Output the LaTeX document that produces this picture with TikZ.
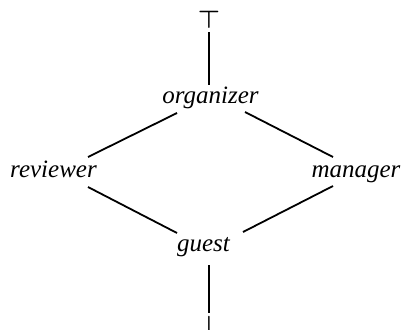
\documentclass[tikz,border=0pt]{standalone}
\usepackage{fontspec}
\setmainfont{Liberation Serif}
\begin{document}
\begin{tikzpicture}[x=1pt,y=-1pt,
  role/.style={inner sep=0pt, outer sep=0pt, anchor=base,
    font=\fontsize{25}{29}\selectfont\itshape},
  bound/.style={inner sep=0pt, outer sep=0pt, anchor=north,
    font=\fontsize{23}{27}\selectfont\boldmath},
  edge/.style={line width=1.8pt}]
\useasboundingbox (0,0) rectangle (406,329);
% lattice of roles
\node[role] (org)   at (210.5,103) {organizer};
\node[role] (rev)   at (53.5,177)  {reviewer};
\node[role] (man)   at (356,177)   {manager};
\node[role] (guest) at (203.5,251) {guest};
% top and bottom elements
\node[bound] (top) at (209,11)  {$\top$};
\node[bound] (bot) at (209,316.5) {$\bot$};
% order relations
\draw[edge] ([shift={(34.5,-20)}]rev.base) -- ([shift={(-33.5,10)}]org.base);
\draw[edge] ([shift={(34.5,9)}]org.base) -- ([shift={(-23,-20)}]man.base);
\draw[edge] ([shift={(34.5,10)}]rev.base) -- ([shift={(-26.5,-18)}]guest.base);
\draw[edge] ([shift={(39.5,-19)}]guest.base) -- ([shift={(-23,9)}]man.base);
\draw[edge] ([yshift=-4pt]top.south) -- ([shift={(-1.5,-18)}]org.base);
\draw[edge] ([shift={(5.5,14)}]guest.base) -- ([yshift=3.5pt]bot.north);
\end{tikzpicture}
\end{document}
